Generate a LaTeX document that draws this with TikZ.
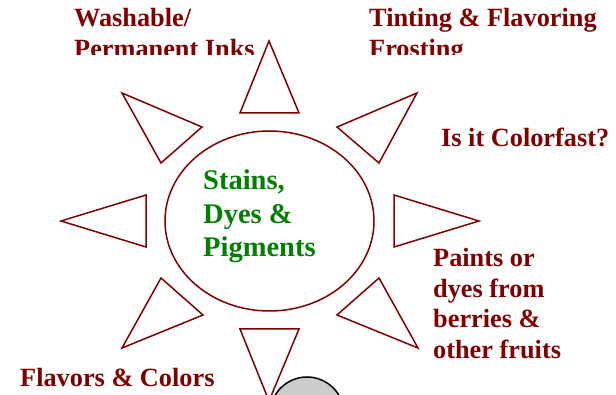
\documentclass[tikz,border=0pt]{standalone}
\usepackage{fontspec}
\setmainfont{Liberation Serif}
\usetikzlibrary{shapes.geometric}
\definecolor{maroonc}{RGB}{128,0,0}
\definecolor{dgreen}{RGB}{0,128,0}
\begin{document}
\begin{tikzpicture}[x=1pt,y=-1pt,
  ray/.style={draw=maroonc,line width=1.5pt,line join=miter},
  lbl/.style={text=maroonc,font=\fontsize{26.3}{30.5}\selectfont\bfseries,align=left,inner sep=0pt,anchor=base west},
  hubtext/.style={text=dgreen,font=\fontsize{28.5}{33.5}\selectfont\bfseries,align=left,inner sep=0pt,anchor=base west}]
\useasboundingbox (0,0) rectangle (616,395);
\clip (0,0) rectangle (616,395);
% central ellipse
\node[draw=maroonc,line width=1.5pt,ellipse,minimum width=209pt,minimum height=180pt,inner sep=0pt] (hub) at (269.5,221) {};
% multi-line nodes: base anchor = baseline of last line
\node[hubtext] (hubt) at (203,257) {Stains,\\Dyes \&\\Pigments};
% rays
\draw[ray] (269,41) -- (240,113) -- (299,113) -- cycle;
\draw[ray] (122,93) -- (202,127) -- (161,163) -- cycle;
\draw[ray] (417,93) -- (337,127) -- (379,163) -- cycle;
\draw[ray] (61,221) -- (146,195) -- (146,247) -- cycle;
\draw[ray] (479,221) -- (394,195) -- (394,247) -- cycle;
\draw[ray] (122,348) -- (203,315) -- (161,278) -- cycle;
\draw[ray] (418,348) -- (337,315) -- (379,278) -- cycle;
\draw[ray] (269,401) -- (240,329) -- (299,329) -- cycle;
% gray circle
\node[circle,draw=black,fill=black!20,line width=1.5pt,minimum size=74pt,inner sep=0pt] (ball) at (307,414) {};
% labels
\begin{scope}
\clip (0,0) rectangle (616,55);
\node[lbl] (l1) at (74,57.5) {Washable/\\Permanent Inks};
\node[lbl] (l2) at (369,57.5) {Tinting \& Flavoring\\Frosting};
\end{scope}
\node[lbl] (l3) at (441,147) {Is it Colorfast?};
\node[lbl] (l4) at (433,358.5) {Paints or\\dyes from\\berries \&\\other fruits};
\node[lbl] (l5) at (20,386) {Flavors \& Colors};
\end{tikzpicture}
\end{document}
